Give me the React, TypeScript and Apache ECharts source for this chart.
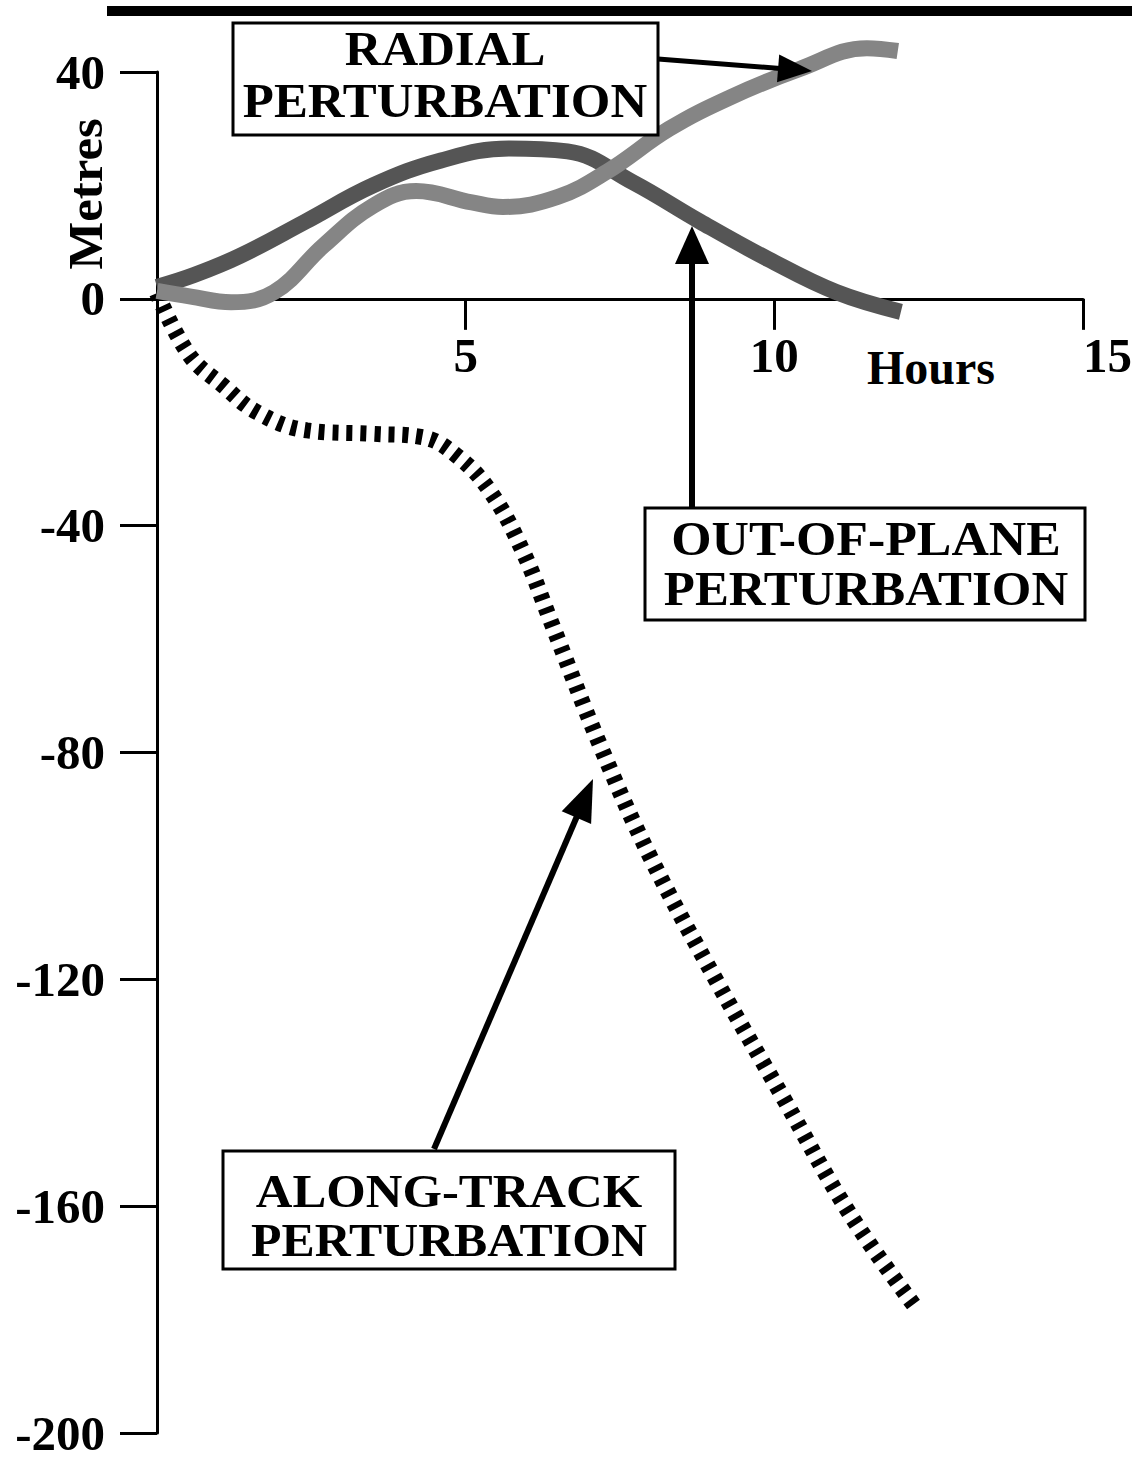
import React, { useEffect, useRef } from 'react';
import * as echarts from 'echarts';

// Radial perturbation (lighter halftone line)
const radialHours = [0, 0.55, 1.2, 1.9, 2.7, 3.5, 4.2, 5.1, 5.6, 6.5, 7.3, 8.3, 9.3, 10.4, 11.5, 12.0];
const radialMetres = [1.4, 0.4, -0.6, 1.2, 9.4, 16.4, 19.0, 17.0, 16.2, 18.0, 22.5, 30.0, 35.6, 40.5, 44.2, 43.7];

// Out-of-plane perturbation (darker halftone line)
const outOfPlaneHours = [0, 0.6, 1.35, 2.4, 3.5, 4.6, 5.7, 6.65, 7.7, 8.8, 9.9, 11.0, 12.05];
const outOfPlaneMetres = [2.1, 4.2, 7.6, 13.6, 20.0, 24.4, 26.5, 26.0, 20.6, 13.6, 7.0, 1.2, -2.3];

// Along-track perturbation (hatched line)
const alongTrackHours = [0, 0.53, 1.07, 1.62, 2.43, 3.5, 4.3, 4.86, 5.4, 5.93, 6.37, 7.18, 7.99, 9.08, 10.15, 11.23, 12.3];
const alongTrackMetres = [1, -10, -15.3, -20, -23.2, -23.8, -24.4, -27.7, -34, -44.6, -56.6, -78.8, -98.4, -120.6, -141, -161.5, -178];

const yMin = -200;
const yMax = 40;
const yStep = 40;
const xMin = 0;
const xMax = 15;
const xStep = 5;

const FONT = '"Liberation Serif", "Times New Roman", Times, serif';

const GRID_TOP = 72;
const GRID_HEIGHT = 1361;

function pairs(h: number[], m: number[]) {
  return h.map((x, i) => [x, m[i]]);
}

function arrow(x1: number, y1: number, tx: number, ty: number, headLen: number, halfW: number, lw: number) {
  const dx = tx - x1;
  const dy = ty - y1;
  const len = Math.sqrt(dx * dx + dy * dy);
  const ux = dx / len;
  const uy = dy / len;
  const bx = tx - ux * headLen;
  const by = ty - uy * headLen;
  const px = -uy;
  const py = ux;
  return [
    {
      type: 'line',
      z: 20,
      shape: { x1, y1, x2: bx + ux * 2, y2: by + uy * 2 },
      style: { stroke: '#000', lineWidth: lw },
    },
    {
      type: 'polygon',
      z: 20,
      shape: {
        points: [
          [tx, ty],
          [bx + px * halfW, by + py * halfW],
          [bx - px * halfW, by - py * halfW],
        ],
      },
      style: { fill: '#000' },
    },
  ];
}

function boxText(text: string, x: number, y: number, size: number, sx: number) {
  return {
    type: 'text',
    z: 22,
    x,
    y,
    scaleX: sx,
    style: {
      text,
      fill: '#000',
      fontSize: size,
      fontWeight: 'bold',
      fontFamily: FONT,
      textAlign: 'center',
      textVerticalAlign: 'middle',
    },
  };
}

function box(x: number, y: number, w: number, h: number) {
  return {
    type: 'rect',
    z: 21,
    shape: { x, y, width: w, height: h },
    style: { fill: '#fff', stroke: '#000', lineWidth: 3 },
  };
}

export default function App() {
  const ref = useRef<HTMLDivElement>(null);

  useEffect(() => {
    const chart = echarts.init(ref.current as HTMLDivElement, null, { renderer: 'svg' });
    const labelStyle = {
      color: '#000',
      fontSize: 49,
      lineHeight: 40,
      fontWeight: 'bold',
      fontFamily: FONT,
    };
    // pixel distance from grid bottom up to the zero line
    const zeroOffset = GRID_HEIGHT * (0 - yMin) / (yMax - yMin);
    const option: any = {
      animation: false,
      backgroundColor: '#fff',
      grid: {
        left: 157,
        top: GRID_TOP,
        width: 926,
        height: GRID_HEIGHT,
        containLabel: false,
        outerBoundsMode: 'none',
      },
      xAxis: {
        type: 'value',
        position: 'bottom',
        offset: -zeroOffset,
        min: xMin,
        max: xMax,
        interval: xStep,
        axisLine: { show: true, onZero: false, lineStyle: { color: '#000', width: 3 } },
        axisTick: { show: true, length: 31, lineStyle: { color: '#000', width: 3 } },
        axisLabel: { ...labelStyle, showMinLabel: false, margin: 37, alignMaxLabel: 'left' },
        splitLine: { show: false },
      },
      yAxis: {
        type: 'value',
        min: yMin,
        max: yMax,
        interval: yStep,
        axisLine: { show: true, lineStyle: { color: '#000', width: 3 } },
        axisTick: { show: true, length: 37, lineStyle: { color: '#000', width: 3 } },
        axisLabel: { ...labelStyle, margin: 52 },
        splitLine: { show: false },
      },
      series: [
        {
          name: 'Along-track perturbation',
          type: 'line',
          data: pairs(alongTrackHours, alongTrackMetres),
          smooth: 0.4,
          symbol: 'none',
          clip: false,
          z: 3,
          lineStyle: { color: '#000', width: 16, type: [6, 8], cap: 'butt' },
        },
        {
          name: 'Out-of-plane perturbation',
          type: 'line',
          data: pairs(outOfPlaneHours, outOfPlaneMetres),
          smooth: 0.4,
          symbol: 'none',
          clip: false,
          z: 4,
          lineStyle: { color: '#555555', width: 16, cap: 'butt' },
        },
        {
          name: 'Radial perturbation',
          type: 'line',
          data: pairs(radialHours, radialMetres),
          smooth: 0.4,
          symbol: 'none',
          clip: false,
          z: 5,
          lineStyle: { color: '#858585', width: 16, cap: 'butt' },
        },
      ],
      graphic: [
        { type: 'rect', z: 20, shape: { x: 107, y: 6, width: 1025, height: 10 }, style: { fill: '#000' } },
        box(233, 23, 425, 112),
        boxText('RADIAL', 445, 49, 48, 1.06),
        boxText('PERTURBATION', 445, 101, 48, 1.06),
        box(645, 508, 440, 112),
        boxText('OUT-OF-PLANE', 866, 539, 48, 1.08),
        boxText('PERTURBATION', 866, 589, 48, 1.06),
        box(223, 1151, 452, 118),
        boxText('ALONG-TRACK', 449, 1191, 47, 1.08),
        boxText('PERTURBATION', 449, 1240, 47, 1.06),
        ...arrow(658, 59, 812, 71, 34, 14, 5),
        ...arrow(692, 508, 692, 226, 38, 17, 6),
        ...arrow(434, 1149, 593, 779, 42, 16, 6),
        {
          type: 'text',
          z: 22,
          x: 931,
          y: 367,
          style: {
            text: 'Hours',
            fill: '#000',
            fontSize: 48,
            fontWeight: 'bold',
            fontFamily: FONT,
            textAlign: 'center',
            textVerticalAlign: 'middle',
          },
        },
        {
          type: 'text',
          z: 22,
          x: 86,
          y: 194,
          rotation: Math.PI / 2,
          scaleX: 1.06,
          style: {
            text: 'Metres',
            fill: '#000',
            fontSize: 48,
            fontWeight: 'bold',
            fontFamily: FONT,
            textAlign: 'center',
            textVerticalAlign: 'middle',
          },
        },
      ],
    };
    chart.setOption(option);
    return () => {
      chart.dispose();
    };
  }, []);

  return (
    <div
      ref={ref}
      style={{ position: 'absolute', left: 0, top: 0, width: 1132, height: 1459, background: '#fff' }}
    />
  );
}
